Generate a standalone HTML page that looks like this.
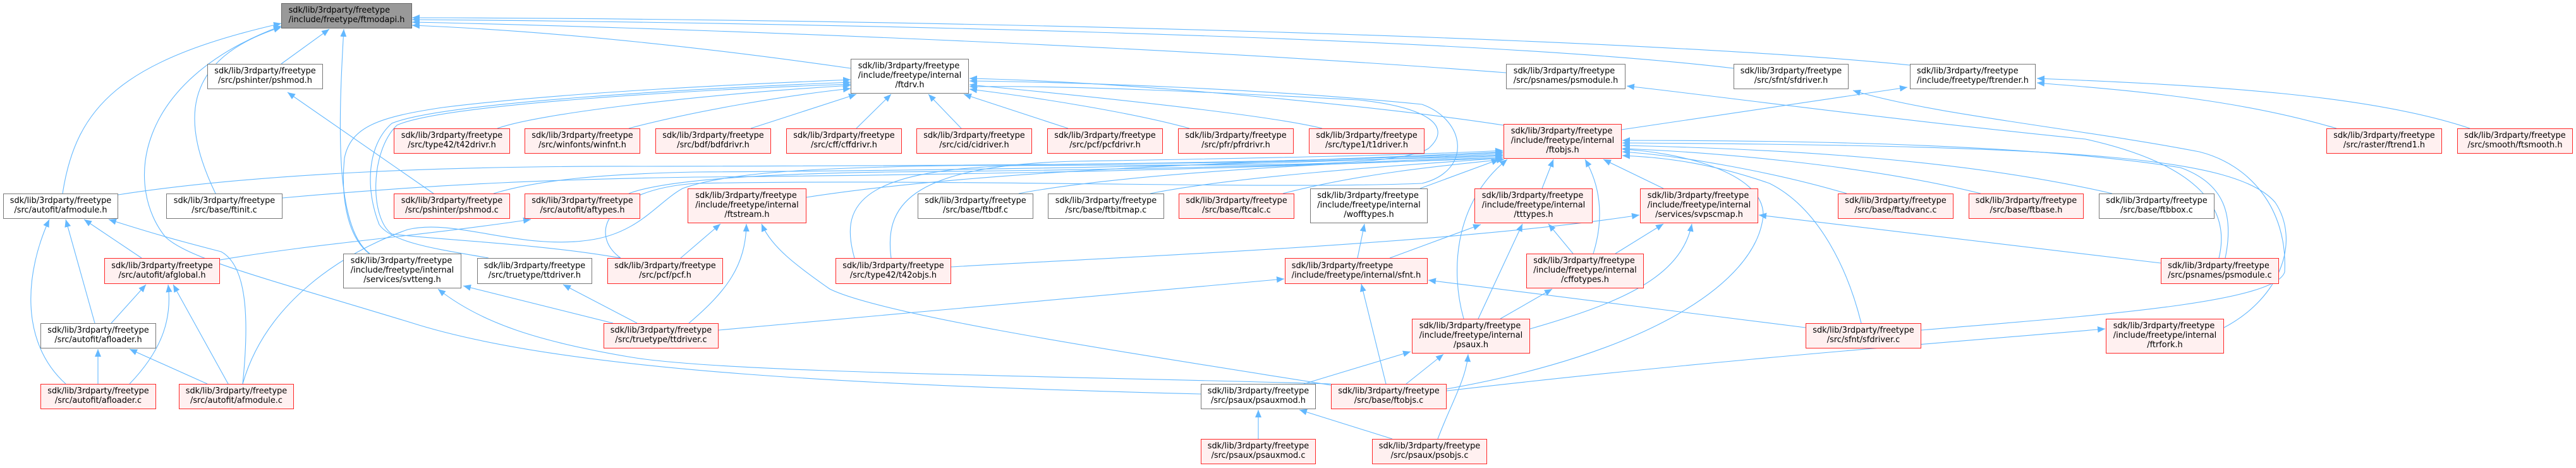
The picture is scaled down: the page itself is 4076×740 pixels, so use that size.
<!DOCTYPE html>
<html>
<head>
<meta charset="utf-8">
<style>
html,body{margin:0;padding:0;background:#fff;}
#wrap{position:relative;width:4076px;height:740px;overflow:hidden;background:#fff;}
svg{position:absolute;left:0;top:0;}
.n{position:absolute;box-sizing:border-box;display:flex;align-items:center;justify-content:center;
font-family:"DejaVu Sans","Liberation Sans",sans-serif;font-size:12.9px;line-height:14.7px;color:#000;}
.n .t{white-space:nowrap;text-align:center;}
.n .t .l1{text-align:left;}
.w{background:#fff;border:1.6px solid #777;}
.r{background:#fff0f0;border:1.6px solid #ff2626;}
.g{background:#999;border:1.6px solid #666;}
</style>
</head>
<body>
<div id="wrap">
<svg width="4076" height="740" viewBox="0 0 4076 740">
<defs>
<marker id="ah" markerUnits="userSpaceOnUse" markerWidth="12" markerHeight="10" viewBox="0 0 12 10" refX="12" refY="5" orient="auto">
<path d="M0,0 L12,5 L0,10 z" fill="#63b8ff"/>
</marker>
</defs>
<g fill="none" stroke="#63b8ff" stroke-width="1.1" marker-end="url(#ah)">
<!-- to ftmodapi.h -->
<path d="M 99 306 C 120 170, 190 95, 445 37"/>
<path d="M 341 306 C 290 200, 280 95, 445 43"/>
<path d="M 445 101 L 521 46"/>
<path d="M 585 401 C 530 360, 535 200, 544 46"/>
<path d="M 1346 108 C 1150 80, 900 50, 652 40"/>
<path d="M 2383 115 C 1800 70, 1000 42, 652 35"/>
<path d="M 2743 108 C 2300 55, 1200 35, 652 31"/>
<path d="M 3022 103 C 2600 60, 1500 30, 652 28"/>
<path d="M 1900 623 C 1400 610, 900 590, 650 510 C 420 440, 300 410, 262 375 C 200 300, 205 130, 445 41"/>
<!-- to pshmod.h -->
<path d="M 686 306 L 455 146"/>
<!-- to ftdrv.h -->
<path d="M 787 203 C 850 180, 1100 150, 1346 135"/>
<path d="M 995 203 C 1100 175, 1250 150, 1346 140"/>
<path d="M 1188 203 L 1355 149"/>
<path d="M 1355 203 L 1410 149"/>
<path d="M 1521 203 L 1469 149"/>
<path d="M 1690 203 L 1525 149"/>
<path d="M 1882 203 C 1800 180, 1650 155, 1534 141"/>
<path d="M 2092 203 C 2000 180, 1700 150, 1534 134"/>
<path d="M 2379 198 C 2200 170, 1800 130, 1534 124"/>
<path d="M 584 401 C 545 370, 540 300, 545 250 C 555 200, 600 185, 700 170 C 900 145, 1200 132, 1346 126"/>
<path d="M 773 408 C 700 395, 620 385, 600 355 C 578 300, 580 230, 620 195 C 700 162, 1100 140, 1346 130"/>
<path d="M 982 408 C 850 385, 700 380, 620 370 C 585 345, 585 240, 628 198 C 700 165, 1100 142, 1346 133"/>
<path d="M 982 408 C 930 370, 960 300, 1100 290 C 1500 282, 2000 300, 2250 290 C 2330 270, 2320 190, 2250 165 C 2000 140, 1700 130, 1534 128"/>
<path d="M 1352 408 C 1330 330, 1350 270, 1600 262 C 1900 258, 2200 270, 2260 235 C 2300 200, 2260 170, 2150 158 C 1900 145, 1700 135, 1534 137"/>
<!-- to psmodule.h / sfdriver.h / ftrender.h -->
<path d="M 3511 408 C 3530 330, 3480 260, 3300 220 C 3000 190, 2700 150, 2574 136"/>
<path d="M 3040 522 C 3300 500, 3600 480, 3615 430 C 3620 330, 3560 260, 3480 240 C 3300 205, 3050 180, 2932 143"/>
<path d="M 2566 205 L 3018 138"/>
<path d="M 3697 203 C 3550 160, 3400 145, 3223 131"/>
<path d="M 3908 203 C 3750 150, 3500 135, 3223 124"/>
<!-- to ftobjs.h -->
<path d="M 1276 312 C 1600 262, 2100 255, 2378 240"/>
<path d="M 187 308 C 400 275, 700 262, 1020 263 C 1600 262, 2100 258, 2378 245"/>
<path d="M 447 313 C 700 290, 900 283, 1100 280 C 1700 275, 2100 262, 2378 248"/>
<path d="M 781 306 C 850 285, 950 275, 1100 272 C 1700 268, 2100 258, 2378 243"/>
<path d="M 995 306 C 1050 285, 1200 275, 1400 272 C 1900 268, 2200 256, 2378 250"/>
<path d="M 1612 306 C 1800 270, 2200 255, 2378 246"/>
<path d="M 1820 306 C 1950 280, 2200 262, 2378 250"/>
<path d="M 2030 306 C 2150 275, 2280 262, 2380 252"/>
<path d="M 1410 408 C 1400 330, 1430 262, 1700 255 C 2000 250, 2250 245, 2378 238"/>
<path d="M 384 607 C 420 480, 540 400, 645 363 C 720 345, 820 395, 930 380 C 1010 370, 1040 320, 1080 298 C 1150 272, 1300 265, 1500 262 C 1900 258, 2200 252, 2378 241"/>
<path d="M 2247 298 L 2372 252"/>
<path d="M 2440 298 L 2458 252"/>
<path d="M 2632 298 L 2537 252"/>
<path d="M 2521 401 C 2540 340, 2530 290, 2508 252"/>
<path d="M 2316 504 C 2295 430, 2300 320, 2385 252"/>
<path d="M 2922 306 C 2800 270, 2650 245, 2567 240"/>
<path d="M 3134 306 C 2950 260, 2700 240, 2567 235"/>
<path d="M 3342 306 C 3100 250, 2800 235, 2567 230"/>
<path d="M 3519 518 C 3610 470, 3640 380, 3600 320 C 3540 250, 3300 230, 2567 226"/>
<path d="M 3521 408 C 3535 340, 3520 290, 3450 265 C 3200 225, 2800 222, 2567 222"/>
<path d="M 2945 511 C 2925 430, 2880 330, 2800 290 C 2700 255, 2620 248, 2567 246"/>
<path d="M 2289 615 C 2600 560, 2780 450, 2790 340 C 2790 270, 2650 240, 2567 236"/>
<!-- autofit cluster -->
<path d="M 104 607 C 30 540, 40 430, 78 347"/>
<path d="M 150 511 L 104 347"/>
<path d="M 224 408 L 133 347"/>
<path d="M 384 607 C 395 500, 390 420, 350 398 C 300 385, 260 375, 172 347"/>
<path d="M 348 411 C 500 385, 650 375, 840 347"/>
<path d="M 176 511 L 231 450"/>
<path d="M 205 607 C 260 550, 272 500, 266 450"/>
<path d="M 361 607 L 274 450"/>
<path d="M 155 607 L 155 552"/>
<path d="M 328 607 L 205 552"/>
<!-- truetype / svtteng / ftstream -->
<path d="M 970 511 L 733 452"/>
<path d="M 2106 607 C 1700 595, 1150 590, 1000 565 C 850 540, 760 510, 693 457"/>
<path d="M 1008 511 L 891 450"/>
<path d="M 1077 408 L 1140 354"/>
<path d="M 1090 511 C 1150 460, 1180 420, 1181 354"/>
<path d="M 2106 609 C 1800 560, 1400 500, 1313 457 C 1260 420, 1220 390, 1205 354"/>
<!-- internal types -->
<path d="M 2489 401 L 2450 354"/>
<path d="M 2556 401 L 2632 354"/>
<path d="M 2339 504 L 2409 354"/>
<path d="M 2374 504 L 2456 457"/>
<path d="M 2421 520 C 2560 480, 2660 440, 2677 354"/>
<path d="M 2063 607 L 2232 556"/>
<path d="M 2225 607 L 2284 560"/>
<path d="M 2193 607 L 2154 449"/>
<path d="M 2275 694 C 2295 640, 2320 600, 2323 560"/>
<path d="M 2203 694 L 2056 648"/>
<path d="M 1991 694 L 1991 648"/>
<path d="M 2289 618 C 2700 570, 3100 540, 3331 520"/>
<path d="M 2148 408 L 2159 354"/>
<path d="M 2199 408 L 2343 355"/>
<path d="M 1137 522 L 2032 441"/>
<path d="M 2857 518 L 2260 443"/>
<path d="M 1505 422 C 1800 405, 2300 385, 2594 340"/>
<path d="M 3419 416 L 2783 340"/>
</g>
</svg>

<!-- rank 0 -->
<div class="n g" style="left:445px;top:5px;width:207px;height:40px"><div class="t"><div class="l1">sdk/lib/3rdparty/freetype</div><div>/include/freetype/ftmodapi.h</div></div></div>
<!-- rank 1 -->
<div class="n w" style="left:328px;top:101px;width:183px;height:40px"><div class="t"><div class="l1">sdk/lib/3rdparty/freetype</div><div>/src/pshinter/pshmod.h</div></div></div>
<div class="n w" style="left:1346px;top:93px;width:187px;height:55px"><div class="t"><div class="l1">sdk/lib/3rdparty/freetype</div><div>/include/freetype/internal</div><div>/ftdrv.h</div></div></div>
<div class="n w" style="left:2383px;top:101px;width:189px;height:40px"><div class="t"><div class="l1">sdk/lib/3rdparty/freetype</div><div>/src/psnames/psmodule.h</div></div></div>
<div class="n w" style="left:2743px;top:101px;width:182px;height:40px"><div class="t"><div class="l1">sdk/lib/3rdparty/freetype</div><div>/src/sfnt/sfdriver.h</div></div></div>
<div class="n w" style="left:3022px;top:101px;width:199px;height:40px"><div class="t"><div class="l1">sdk/lib/3rdparty/freetype</div><div>/include/freetype/ftrender.h</div></div></div>
<!-- rank 2 -->
<div class="n r" style="left:623px;top:203px;width:184px;height:40px"><div class="t"><div class="l1">sdk/lib/3rdparty/freetype</div><div>/src/type42/t42drivr.h</div></div></div>
<div class="n r" style="left:830px;top:203px;width:183px;height:40px"><div class="t"><div class="l1">sdk/lib/3rdparty/freetype</div><div>/src/winfonts/winfnt.h</div></div></div>
<div class="n r" style="left:1037px;top:203px;width:183px;height:40px"><div class="t"><div class="l1">sdk/lib/3rdparty/freetype</div><div>/src/bdf/bdfdrivr.h</div></div></div>
<div class="n r" style="left:1244px;top:203px;width:183px;height:40px"><div class="t"><div class="l1">sdk/lib/3rdparty/freetype</div><div>/src/cff/cffdrivr.h</div></div></div>
<div class="n r" style="left:1450px;top:203px;width:183px;height:40px"><div class="t"><div class="l1">sdk/lib/3rdparty/freetype</div><div>/src/cid/cidriver.h</div></div></div>
<div class="n r" style="left:1657px;top:203px;width:183px;height:40px"><div class="t"><div class="l1">sdk/lib/3rdparty/freetype</div><div>/src/pcf/pcfdrivr.h</div></div></div>
<div class="n r" style="left:1864px;top:203px;width:183px;height:40px"><div class="t"><div class="l1">sdk/lib/3rdparty/freetype</div><div>/src/pfr/pfrdrivr.h</div></div></div>
<div class="n r" style="left:2071px;top:203px;width:183px;height:40px"><div class="t"><div class="l1">sdk/lib/3rdparty/freetype</div><div>/src/type1/t1driver.h</div></div></div>
<div class="n r" style="left:2379px;top:196px;width:187px;height:55px"><div class="t"><div class="l1">sdk/lib/3rdparty/freetype</div><div>/include/freetype/internal</div><div>/ftobjs.h</div></div></div>
<div class="n r" style="left:3681px;top:203px;width:183px;height:40px"><div class="t"><div class="l1">sdk/lib/3rdparty/freetype</div><div>/src/raster/ftrend1.h</div></div></div>
<div class="n r" style="left:3888px;top:203px;width:183px;height:40px"><div class="t"><div class="l1">sdk/lib/3rdparty/freetype</div><div>/src/smooth/ftsmooth.h</div></div></div>
<!-- rank 3 -->
<div class="n w" style="left:5px;top:306px;width:182px;height:40px"><div class="t"><div class="l1">sdk/lib/3rdparty/freetype</div><div>/src/autofit/afmodule.h</div></div></div>
<div class="n w" style="left:263px;top:306px;width:184px;height:40px"><div class="t"><div class="l1">sdk/lib/3rdparty/freetype</div><div>/src/base/ftinit.c</div></div></div>
<div class="n r" style="left:623px;top:306px;width:184px;height:40px"><div class="t"><div class="l1">sdk/lib/3rdparty/freetype</div><div>/src/pshinter/pshmod.c</div></div></div>
<div class="n r" style="left:830px;top:306px;width:183px;height:40px"><div class="t"><div class="l1">sdk/lib/3rdparty/freetype</div><div>/src/autofit/aftypes.h</div></div></div>
<div class="n r" style="left:1088px;top:298px;width:188px;height:55px"><div class="t"><div class="l1">sdk/lib/3rdparty/freetype</div><div>/include/freetype/internal</div><div>/ftstream.h</div></div></div>
<div class="n w" style="left:1452px;top:306px;width:183px;height:40px"><div class="t"><div class="l1">sdk/lib/3rdparty/freetype</div><div>/src/base/ftbdf.c</div></div></div>
<div class="n w" style="left:1658px;top:306px;width:184px;height:40px"><div class="t"><div class="l1">sdk/lib/3rdparty/freetype</div><div>/src/base/ftbitmap.c</div></div></div>
<div class="n r" style="left:1865px;top:306px;width:183px;height:40px"><div class="t"><div class="l1">sdk/lib/3rdparty/freetype</div><div>/src/base/ftcalc.c</div></div></div>
<div class="n w" style="left:2073px;top:298px;width:186px;height:55px"><div class="t"><div class="l1">sdk/lib/3rdparty/freetype</div><div>/include/freetype/internal</div><div>/wofftypes.h</div></div></div>
<div class="n r" style="left:2333px;top:298px;width:187px;height:55px"><div class="t"><div class="l1">sdk/lib/3rdparty/freetype</div><div>/include/freetype/internal</div><div>/tttypes.h</div></div></div>
<div class="n r" style="left:2595px;top:298px;width:187px;height:55px"><div class="t"><div class="l1">sdk/lib/3rdparty/freetype</div><div>/include/freetype/internal</div><div>/services/svpscmap.h</div></div></div>
<div class="n r" style="left:2908px;top:306px;width:183px;height:40px"><div class="t"><div class="l1">sdk/lib/3rdparty/freetype</div><div>/src/base/ftadvanc.c</div></div></div>
<div class="n r" style="left:3115px;top:306px;width:182px;height:40px"><div class="t"><div class="l1">sdk/lib/3rdparty/freetype</div><div>/src/base/ftbase.h</div></div></div>
<div class="n w" style="left:3321px;top:306px;width:183px;height:40px"><div class="t"><div class="l1">sdk/lib/3rdparty/freetype</div><div>/src/base/ftbbox.c</div></div></div>
<!-- rank 4 -->
<div class="n r" style="left:165px;top:408px;width:183px;height:41px"><div class="t"><div class="l1">sdk/lib/3rdparty/freetype</div><div>/src/autofit/afglobal.h</div></div></div>
<div class="n w" style="left:543px;top:401px;width:187px;height:55px"><div class="t"><div class="l1">sdk/lib/3rdparty/freetype</div><div>/include/freetype/internal</div><div>/services/svtteng.h</div></div></div>
<div class="n w" style="left:755px;top:408px;width:182px;height:41px"><div class="t"><div class="l1">sdk/lib/3rdparty/freetype</div><div>/src/truetype/ttdriver.h</div></div></div>
<div class="n r" style="left:961px;top:408px;width:183px;height:41px"><div class="t"><div class="l1">sdk/lib/3rdparty/freetype</div><div>/src/pcf/pcf.h</div></div></div>
<div class="n r" style="left:1322px;top:408px;width:183px;height:41px"><div class="t"><div class="l1">sdk/lib/3rdparty/freetype</div><div>/src/type42/t42objs.h</div></div></div>
<div class="n r" style="left:2033px;top:408px;width:226px;height:41px"><div class="t"><div class="l1">sdk/lib/3rdparty/freetype</div><div>/include/freetype/internal/sfnt.h</div></div></div>
<div class="n r" style="left:2415px;top:401px;width:186px;height:55px"><div class="t"><div class="l1">sdk/lib/3rdparty/freetype</div><div>/include/freetype/internal</div><div>/cffotypes.h</div></div></div>
<div class="n r" style="left:3419px;top:408px;width:187px;height:41px"><div class="t"><div class="l1">sdk/lib/3rdparty/freetype</div><div>/src/psnames/psmodule.c</div></div></div>
<!-- rank 5 -->
<div class="n w" style="left:64px;top:511px;width:183px;height:40px"><div class="t"><div class="l1">sdk/lib/3rdparty/freetype</div><div>/src/autofit/afloader.h</div></div></div>
<div class="n r" style="left:955px;top:511px;width:182px;height:40px"><div class="t"><div class="l1">sdk/lib/3rdparty/freetype</div><div>/src/truetype/ttdriver.c</div></div></div>
<div class="n r" style="left:2234px;top:504px;width:187px;height:55px"><div class="t"><div class="l1">sdk/lib/3rdparty/freetype</div><div>/include/freetype/internal</div><div>/psaux.h</div></div></div>
<div class="n r" style="left:2857px;top:511px;width:183px;height:40px"><div class="t"><div class="l1">sdk/lib/3rdparty/freetype</div><div>/src/sfnt/sfdriver.c</div></div></div>
<div class="n r" style="left:3332px;top:504px;width:187px;height:55px"><div class="t"><div class="l1">sdk/lib/3rdparty/freetype</div><div>/include/freetype/internal</div><div>/ftrfork.h</div></div></div>
<!-- rank 6 -->
<div class="n r" style="left:64px;top:607px;width:183px;height:40px"><div class="t"><div class="l1">sdk/lib/3rdparty/freetype</div><div>/src/autofit/afloader.c</div></div></div>
<div class="n r" style="left:283px;top:607px;width:182px;height:40px"><div class="t"><div class="l1">sdk/lib/3rdparty/freetype</div><div>/src/autofit/afmodule.c</div></div></div>
<div class="n w" style="left:1900px;top:607px;width:182px;height:40px"><div class="t"><div class="l1">sdk/lib/3rdparty/freetype</div><div>/src/psaux/psauxmod.h</div></div></div>
<div class="n r" style="left:2106px;top:607px;width:183px;height:40px"><div class="t"><div class="l1">sdk/lib/3rdparty/freetype</div><div>/src/base/ftobjs.c</div></div></div>
<!-- rank 7 -->
<div class="n r" style="left:1900px;top:694px;width:182px;height:40px"><div class="t"><div class="l1">sdk/lib/3rdparty/freetype</div><div>/src/psaux/psauxmod.c</div></div></div>
<div class="n r" style="left:2171px;top:694px;width:182px;height:40px"><div class="t"><div class="l1">sdk/lib/3rdparty/freetype</div><div>/src/psaux/psobjs.c</div></div></div>
</div>
</body>
</html>
